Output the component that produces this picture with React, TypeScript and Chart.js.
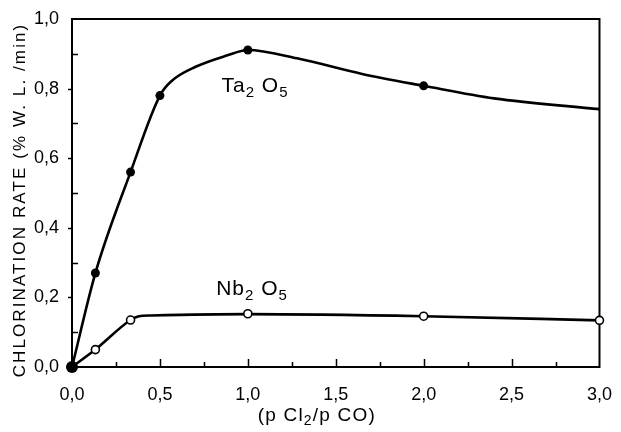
import { useEffect, useRef } from "react";
import { Chart, registerables } from "chart.js";

Chart.register(...registerables);

// ---- data ----
// Ta2O5 measured points (filled dots)
const taPointX = [0, 0.133, 0.333, 0.5, 1.0, 2.0];
const taPointY = [0, 0.27, 0.56, 0.78, 0.911, 0.808];
// Ta2O5 drawn curve (traced)
const taCurveX = [0, 0.133, 0.333, 0.5, 0.567, 0.7, 0.88, 1.0, 1.28, 1.65, 2.0, 2.4, 3.0];
const taCurveY = [0, 0.27, 0.56, 0.78, 0.822, 0.862, 0.895, 0.911, 0.887, 0.842, 0.808, 0.772, 0.741];
// Nb2O5 measured points (open circles)
const nbPointX = [0.133, 0.333, 1.0, 2.0, 3.0];
const nbPointY = [0.05, 0.135, 0.153, 0.146, 0.134];
// Nb2O5 drawn curve (traced)
const nbCurveX = [0, 0.133, 0.333, 0.38, 0.45, 1.0, 2.0, 3.0];
const nbCurveY = [0, 0.05, 0.135, 0.146, 0.148, 0.152, 0.146, 0.134];

const xMajorTicks = [0, 0.5, 1.0, 1.5, 2.0, 2.5, 3.0];
const xMinorTicks = [0.25, 0.75, 1.25, 1.75, 2.25, 2.75];
const yMajorTicks = [0, 0.2, 0.4, 0.6, 0.8, 1.0];
const yMinorTicks = [0.1, 0.3, 0.5, 0.7, 0.9];

const yTitle = "CHLORINATION RATE (% W. L. /min)";
const xTitleParts = ["(p Cl", "2", "/p CO)"];
const taLabel = ["Ta", "2", " O", "5"];
const nbLabel = ["Nb", "2", " O", "5"];

const FONT = "'Liberation Sans', Arial, sans-serif";

const fmt = (v: number) => v.toFixed(1).replace(".", ",");
const pts = (xs: number[], ys: number[]) => xs.map((x, i) => ({ x, y: ys[i] }));

function drawSubText(ctx: CanvasRenderingContext2D, parts: string[], x: number, y: number, big: number, small: number) {
  let cx = x;
  parts.forEach((p, i) => {
    const isSub = i % 2 === 1;
    ctx.font = `${isSub ? small : big}px ${FONT}`;
    ctx.fillText(p, cx, isSub ? y + big * 0.22 : y);
    cx += ctx.measureText(p).width;
  });
}

const decorPlugin = {
  id: "decor",
  beforeDatasetsDraw(chart: any) {
    const { ctx, chartArea: a, scales } = chart;
    const xs = scales.x;
    const ys = scales.y;
    ctx.save();
    ctx.strokeStyle = "#000";
    ctx.lineWidth = 2;
    ctx.strokeRect(a.left, a.top, a.right - a.left, a.bottom - a.top);
    ctx.lineWidth = 1.5;
    ctx.beginPath();
    xMajorTicks.forEach((v) => {
      if (v <= 0 || v >= 3) return;
      const px = Math.round(xs.getPixelForValue(v)) + 0.5;
      ctx.moveTo(px, a.bottom);
      ctx.lineTo(px, a.bottom - 8);
    });
    xMinorTicks.forEach((v) => {
      const px = Math.round(xs.getPixelForValue(v)) + 0.5;
      ctx.moveTo(px, a.bottom);
      ctx.lineTo(px, a.bottom - 5);
    });
    yMajorTicks.forEach((v) => {
      if (v >= 1) return;
      const py = Math.round(ys.getPixelForValue(v)) + 0.5;
      ctx.moveTo(a.left, py);
      ctx.lineTo(a.left - 4, py);
    });
    yMinorTicks.forEach((v) => {
      const py = Math.round(ys.getPixelForValue(v)) + 0.5;
      ctx.moveTo(a.left, py);
      ctx.lineTo(a.left + 6, py);
    });
    ctx.stroke();
    ctx.restore();
  },
  afterDraw(chart: any) {
    const { ctx, chartArea: a, scales } = chart;
    const xs = scales.x;
    const ys = scales.y;
    ctx.save();
    ctx.fillStyle = "#000";
    // y title
    ctx.save();
    ctx.translate(20, (a.top + a.bottom) / 2 + 7);
    ctx.rotate(-Math.PI / 2);
    ctx.font = `17px ${FONT}`;
    (ctx as any).letterSpacing = "2.1px";
    ctx.textAlign = "center";
    ctx.textBaseline = "middle";
    ctx.fillText(yTitle, 0, 0);
    ctx.restore();
    // x title
    ctx.save();
    (ctx as any).letterSpacing = "1.2px";
    ctx.textBaseline = "alphabetic";
    ctx.textAlign = "left";
    drawSubText(ctx, xTitleParts, (a.left + a.right) / 2 - 78, chart.height - 11, 19, 14);
    ctx.restore();
    // series labels
    ctx.save();
    ctx.textBaseline = "alphabetic";
    ctx.textAlign = "left";
    (ctx as any).letterSpacing = "1px";
    drawSubText(ctx, taLabel, xs.getPixelForValue(0.85), ys.getPixelForValue(0.79), 21, 15);
    drawSubText(ctx, nbLabel, xs.getPixelForValue(0.82), ys.getPixelForValue(0.207), 21, 15);
    ctx.restore();
    ctx.restore();
  },
};

export default function App() {
  const ref = useRef<HTMLCanvasElement | null>(null);
  useEffect(() => {
    if (!ref.current) return;
    const chart = new Chart(ref.current, {
      type: "scatter",
      data: {
        datasets: [
          {
            data: pts(taCurveX, taCurveY),
            showLine: true,
            borderColor: "#000",
            borderWidth: 2.6,
            pointRadius: 0,
            cubicInterpolationMode: "monotone",
            order: 2,
            clip: false,
          } as any,
          {
            data: pts(nbCurveX, nbCurveY),
            showLine: true,
            borderColor: "#000",
            borderWidth: 2.6,
            pointRadius: 0,
            cubicInterpolationMode: "monotone",
            order: 2,
            clip: false,
          } as any,
          {
            data: pts(taPointX, taPointY),
            showLine: false,
            pointRadius: (c: any) => (c.dataIndex === 0 ? 6 : 4.5),
            pointBackgroundColor: "#000",
            pointBorderColor: "#000",
            pointBorderWidth: 0,
            order: 0,
            clip: false,
          } as any,
          {
            data: pts(nbPointX, nbPointY),
            showLine: false,
            pointRadius: 4,
            pointBackgroundColor: "#fff",
            pointBorderColor: "#000",
            pointBorderWidth: 1.6,
            order: 1,
            clip: false,
          } as any,
        ],
      },
      options: {
        animation: false,
        responsive: false,
        events: [],
        layout: { padding: { left: 0, top: 19, right: 13, bottom: 0 } },
        plugins: { legend: { display: false }, tooltip: { enabled: false } },
        scales: {
          x: {
            type: "linear",
            min: 0,
            max: 3,
            grid: { display: false },
            border: { display: false },
            afterBuildTicks: (s: any) => {
              s.ticks = xMajorTicks.map((v) => ({ value: v }));
            },
            afterFit: (s: any) => {
              s.height = 65;
            },
            ticks: {
              padding: 9,
              color: "#000",
              font: { family: FONT, size: 18 },
              maxRotation: 0,
              callback: (v: any) => fmt(Number(v)),
            },
          },
          y: {
            type: "linear",
            min: 0,
            max: 1,
            grid: { display: false },
            border: { display: false },
            afterBuildTicks: (s: any) => {
              s.ticks = yMajorTicks.map((v) => ({ value: v }));
            },
            afterFit: (s: any) => {
              s.width = 72;
            },
            ticks: {
              padding: 5,
              color: "#000",
              font: { family: FONT, size: 18 },
              callback: (v: any) => fmt(Number(v)),
            },
          },
        },
      } as any,
      plugins: [decorPlugin],
    });
    return () => chart.destroy();
  }, []);
  return (
    <div style={{ position: "fixed", left: 0, top: 0, width: 621, height: 432, background: "#fff" }}>
      <canvas ref={ref} width={621} height={432} />
    </div>
  );
}
